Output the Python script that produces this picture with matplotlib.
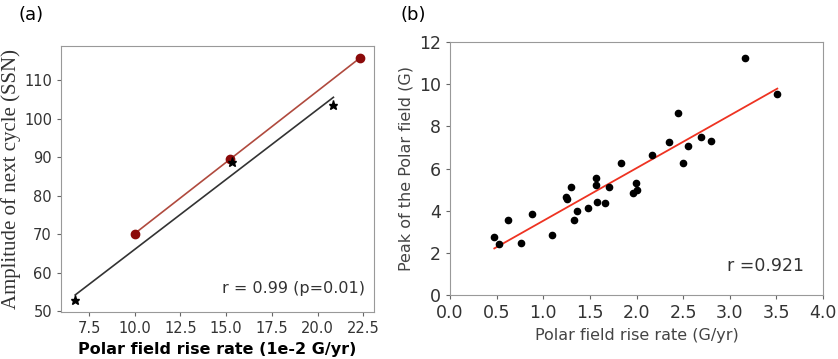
import numpy as np
import matplotlib
matplotlib.use("Agg")
import matplotlib.pyplot as plt

# Panel (a) data
red_x = [10.0, 15.2, 22.3]
red_y = [70.1, 89.7, 115.7]
star_x = [6.75, 15.33, 20.86]
star_y = [53.0, 88.8, 103.6]

# Panel (b) data
rise_rate = [0.475, 0.53, 0.62, 0.76, 0.875, 1.09, 1.24, 1.25, 1.30, 1.33,
             1.36, 1.48, 1.57, 1.57, 1.58, 1.66, 1.71, 1.83, 1.96, 1.99,
             2.01, 2.17, 2.35, 2.44, 2.50, 2.55, 2.69, 2.80, 3.16, 3.51]
peak_field = [2.76, 2.42, 3.58, 2.45, 3.84, 2.84, 4.63, 4.53, 5.13, 3.58,
              3.99, 4.15, 5.24, 5.56, 4.41, 4.37, 5.13, 6.25, 4.85, 5.32,
              4.97, 6.62, 7.28, 8.64, 6.27, 7.07, 7.50, 7.29, 11.24, 9.55]

W, H = 838, 359
fig = plt.figure(figsize=(W/100, H/100), dpi=100)

spine_col = "#999999"

# ---- Panel (a)
axa = fig.add_axes([61/W, (H-312)/H, 313/W, 266/H])
ra = np.polyfit(red_x, red_y, 1)
xr = np.array([min(red_x), max(red_x)])
axa.plot(xr, np.polyval(ra, xr), color="#b04a3e", lw=1.2, zorder=2)
sa = np.polyfit(star_x, star_y, 1)
xs = np.array([min(star_x), max(star_x)])
axa.plot(xs, np.polyval(sa, xs), color="#333333", lw=1.2, zorder=2)
axa.plot(red_x, red_y, "o", color="#8b0a0a", ms=6, zorder=3)
axa.plot(star_x, star_y, "*", color="black", ms=6.5, zorder=3)
axa.set_xticks([7.5, 10.0, 12.5, 15.0, 17.5, 20.0, 22.5])
axa.set_yticks([50, 60, 70, 80, 90, 100, 110])
axa.tick_params(labelsize=10.5, colors="#333333", length=3, color="#666666")
axa.set_xlabel("Polar field rise rate (1e-2 G/yr)", fontsize=11.5, fontweight="bold")
axa.set_ylabel("Amplitude of next cycle (SSN)", fontsize=15, family="Liberation Serif",
               color="#333333", labelpad=2)
for s in axa.spines.values():
    s.set_color(spine_col)
axa.text(0.97, 0.06, "r = 0.99 (p=0.01)", transform=axa.transAxes, ha="right", va="bottom",
         fontsize=11.5, color="#333333")
fig.text(18/W, 1-15/H, "(a)", fontsize=13, va="center", ha="left")

# ---- Panel (b)
axb = fig.add_axes([450/W, (H-295)/H, 373/W, 253/H])
fb = np.polyfit(rise_rate, peak_field, 1)
xb = np.array([min(rise_rate), max(rise_rate)])
axb.plot(xb, np.polyval(fb, xb), color="#ee3322", lw=1.3, zorder=2)
axb.plot(rise_rate, peak_field, "o", color="black", ms=4.5, zorder=3)
axb.set_xlim(0, 4)
axb.set_ylim(0, 12)
axb.set_xticks(np.arange(0, 4.01, 0.5))
axb.set_yticks([0, 2, 4, 6, 8, 10, 12])
axb.tick_params(labelsize=12.5, colors="#333333", length=3, color="#666666")
axb.set_xlabel("Polar field rise rate (G/yr)", fontsize=11.5, color="#444444")
axb.set_ylabel("Peak of the Polar field (G)", fontsize=11.5, color="#444444")
for s in axb.spines.values():
    s.set_color(spine_col)
axb.text(0.95, 0.08, "r =0.921", transform=axb.transAxes, ha="right", va="bottom",
         fontsize=12.5, color="#333333")
fig.text(400/W, 1-15/H, "(b)", fontsize=13, va="center", ha="left")

fig.savefig("out.png", dpi=100)
